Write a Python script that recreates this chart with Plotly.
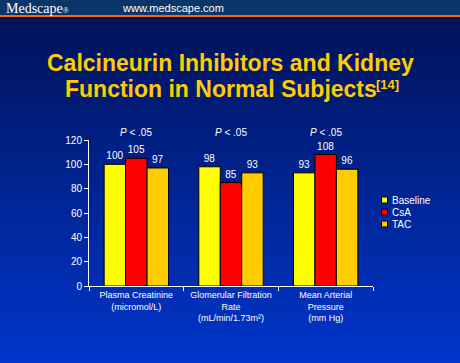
import plotly.graph_objects as go

categories = ["Plasma Creatinine<br>(micromol/L)",
              "Glomerular Filtration<br>Rate<br>(mL/min/1.73m²)",
              "Mean Arterial<br>Pressure<br>(mm Hg)"]
series_names = ["Baseline", "CsA", "TAC"]
baseline = [100, 98, 93]
csa = [105, 85, 108]
tac = [97, 93, 96]
p_labels = ["<i>P</i> < .05", "<i>P</i> < .05", "<i>P</i> < .05"]
y_ticks = [0, 20, 40, 60, 80, 100, 120]

W, H = 460, 363
L, R, T, B = 89, 87, 140, 77
PH = H - T - B

def py2paper(py):
    return (H - B - py) / PH

def px2paper(px):
    return (px - L) / (W - L - R)

colors = ["#ffff00", "#ff0000", "#ffcc00"]
fig = go.Figure()
for name, vals, col in zip(series_names, [baseline, csa, tac], colors):
    fig.add_trace(go.Bar(
        name=name, x=categories, y=vals, marker=dict(color=col, line=dict(color="black", width=1)),
        text=[str(v) for v in vals], textposition="outside", showlegend=False,
        textfont=dict(color="white", size=10, family="Liberation Sans"), cliponaxis=False,
    ))

shapes = []
# gradient background
n = 70
top_py, bot_py = 15, H
c0 = (0x00, 0x13, 0x5a)
c1 = (0x00, 0x36, 0xcc)
for i in range(n):
    a = top_py + (bot_py - top_py) * i / n
    b = top_py + (bot_py - top_py) * (i + 1) / n
    t = i / (n - 1)
    c = tuple(int(c0[k] + (c1[k] - c0[k]) * t) for k in range(3))
    shapes.append(dict(type="rect", xref="paper", yref="paper", layer="below",
                       x0=px2paper(0), x1=px2paper(W), y0=py2paper(b + 0.5), y1=py2paper(a),
                       fillcolor="rgb(%d,%d,%d)" % c, line=dict(width=0)))
# header
shapes.append(dict(type="rect", xref="paper", yref="paper", layer="below",
                   x0=px2paper(0), x1=px2paper(W), y0=py2paper(15), y1=py2paper(0),
                   fillcolor="#0b3568", line=dict(width=0)))
shapes.append(dict(type="rect", xref="paper", yref="paper", layer="below",
                   x0=px2paper(0), x1=px2paper(W), y0=py2paper(17), y1=py2paper(15),
                   fillcolor="#ff6600", line=dict(width=0)))

annotations = [
    dict(text="Medscape<span style='font-size:8px'>®</span>", x=px2paper(4), y=py2paper(8),
         xref="paper", yref="paper", xanchor="left", yanchor="middle", showarrow=False,
         font=dict(family="Liberation Serif", size=14, color="white")),
    dict(text="www.medscape.com", x=px2paper(120), y=py2paper(8), xref="paper", yref="paper",
         xanchor="left", yanchor="middle", showarrow=False,
         font=dict(family="Liberation Sans", size=11, color="white")),
    dict(text="<b>Calcineurin Inhibitors and Kidney</b>", x=px2paper(230), y=py2paper(63),
         xref="paper", yref="paper", xanchor="center", yanchor="middle", showarrow=False,
         font=dict(family="Liberation Sans", size=23, color="#ffcc00")),
    dict(text="<b>Function in Normal Subjects</b>", x=px2paper(221), y=py2paper(89),
         xref="paper", yref="paper", xanchor="center", yanchor="middle", showarrow=False,
         font=dict(family="Liberation Sans", size=23, color="#ffcc00")),
    dict(text="<b>[14]</b>", x=px2paper(374), y=py2paper(84),
         xref="paper", yref="paper", xanchor="left", yanchor="middle", showarrow=False,
         font=dict(family="Liberation Sans", size=13, color="#ffcc00")),
]
for cat, pl in zip(categories, p_labels):
    annotations.append(dict(text=pl, x=cat, y=py2paper(132), xref="x", yref="paper",
                            xanchor="center", yanchor="middle", showarrow=False,
                            font=dict(family="Liberation Sans", size=10, color="white")))

# manual legend
leg_y = [200, 212, 224]
for name, col, yy in zip(series_names, colors, leg_y):
    shapes.append(dict(type="rect", xref="paper", yref="paper",
                       x0=px2paper(381.5), x1=px2paper(387.5), y0=py2paper(yy + 3), y1=py2paper(yy - 3),
                       fillcolor=col, line=dict(color="black", width=1)))
    annotations.append(dict(text=name, x=px2paper(389.5), y=py2paper(yy), xref="paper", yref="paper",
                            xanchor="left", yanchor="middle", showarrow=False,
                            font=dict(family="Liberation Sans", size=10, color="white")))

fig.update_layout(
    width=W, height=H, margin=dict(l=L, r=R, t=T, b=B, autoexpand=False),
    paper_bgcolor="#001a70", plot_bgcolor="rgba(0,0,0,0)",
    barmode="group", bargap=0.32, bargroupgap=0,
    shapes=shapes, annotations=annotations, showlegend=False,
    font=dict(family="Liberation Sans", color="white", size=10),
    xaxis=dict(showline=True, linecolor="white", linewidth=1, ticks="outside", tickson="boundaries",
               tickcolor="white", ticklen=4, tickangle=0, tickfont=dict(size=9, color="white"),
               showgrid=False, automargin=False),
    yaxis=dict(range=[0, 120], tickvals=y_ticks, showline=True, linecolor="white", linewidth=1,
               ticks="outside", tickcolor="white", ticklen=4, showgrid=False, zeroline=False,
               tickfont=dict(size=10, color="white"), automargin=False),
)
fig.write_html("out.html", config={"displayModeBar": False},
               post_script="document.body.style.margin='0';document.body.style.padding='0';"
                           "document.body.style.overflow='hidden';")
